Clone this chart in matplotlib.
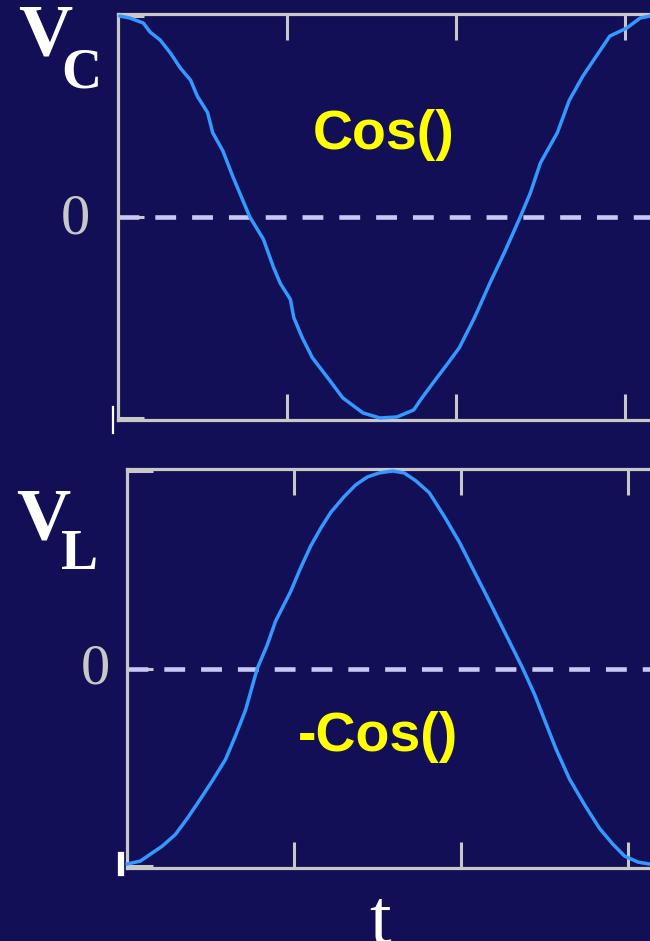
import matplotlib
matplotlib.use("Agg")
import matplotlib.pyplot as plt
from matplotlib.lines import Line2D

W, H = 650, 941
BG = "#120f56"
AXIS = "#c8c8c8"
CURVE = "#3399ff"
ZERO = "#c8c8f5"
YELLOW = "#ffff00"

# capacitor voltage (time in tick units, voltage normalised)
t_c = [0.01, 0.07, 0.15, 0.19, 0.25, 0.31, 0.37, 0.43, 0.47, 0.53, 0.56, 0.62,
       0.68, 0.72, 0.78, 0.86, 0.92, 0.96, 1.02, 1.04, 1.09, 1.15, 1.25, 1.33,
       1.45, 1.55, 1.65, 1.75, 1.79, 1.86, 1.95, 2.02, 2.11, 2.20, 2.29, 2.38,
       2.44, 2.50, 2.60, 2.67, 2.75, 2.83, 2.91, 3.01, 3.09, 3.15]
v_c = [1.00, 0.99, 0.965, 0.92, 0.88, 0.816, 0.74, 0.68, 0.60, 0.52, 0.42, 0.33,
       0.20, 0.12, 0.00, -0.11, -0.25, -0.33, -0.41, -0.50, -0.60, -0.70, -0.81, -0.90,
       -0.975, -1.00, -0.995, -0.96, -0.91, -0.83, -0.73, -0.65, -0.50, -0.33, -0.17, 0.00,
       0.12, 0.27, 0.42, 0.58, 0.70, 0.80, 0.90, 0.94, 0.99, 1.00]

# inductor voltage
t_l = [0.00, 0.08, 0.14, 0.21, 0.29, 0.36, 0.44, 0.51, 0.59, 0.65, 0.71, 0.78,
       0.84, 0.89, 0.98, 1.04, 1.10, 1.16, 1.22, 1.30, 1.37, 1.44, 1.51, 1.59,
       1.66, 1.73, 1.81, 1.90, 1.99, 2.08, 2.17, 2.27, 2.37, 2.44, 2.50, 2.57,
       2.65, 2.74, 2.83, 2.91, 2.98, 3.06, 3.13]
v_l = [-0.99, -0.975, -0.94, -0.90, -0.84, -0.76, -0.66, -0.57, -0.46, -0.34, -0.21, 0.00,
       0.12, 0.24, 0.39, 0.51, 0.62, 0.71, 0.79, 0.87, 0.93, 0.97, 0.99, 1.00,
       0.99, 0.95, 0.89, 0.77, 0.64, 0.49, 0.34, 0.17, 0.00, -0.13, -0.26, -0.41,
       -0.56, -0.69, -0.81, -0.89, -0.95, -0.98, -0.99]

x_ticks = [1, 2, 3]
y_ticks = [-1, 0, 1]

plt.rcParams["lines.scale_dashes"] = False


def fx(x):
    return x / W


def fy(y):
    return 1 - y / H


fig = plt.figure(figsize=(6.5, 9.41), dpi=100, facecolor=BG)


def panel(left, top, bottom, px_per_unit, t, v):
    ax = fig.add_axes([fx(left), fy(bottom), 3.5 * px_per_unit / W, (bottom - top) / H])
    ax.set_facecolor(BG)
    ax.set_xlim(0, 3.5)
    ax.set_ylim(-1.01, 1.01)
    ax.axhline(0, color=ZERO, lw=3.3, dashes=(15, 11.5), zorder=2)
    ax.plot(t, v, color=CURVE, lw=2.5, zorder=3, clip_on=False,
            solid_joinstyle="round", solid_capstyle="round")
    for s in ("left", "top", "bottom"):
        ax.spines[s].set_color(AXIS)
        ax.spines[s].set_linewidth(2.3)
    ax.spines["right"].set_visible(False)
    ax.set_xticks(x_ticks)
    ax.set_yticks(y_ticks)
    ax.tick_params(axis="both", direction="in", color=AXIS, width=2.2, length=19,
                   top=True, right=False, labelbottom=False, labelleft=False)
    return ax


ax1 = panel(118, 14, 420, 169, t_c, v_c)
ax2 = panel(127, 469, 868, 167, t_l, v_l)

serif = "Liberation Serif"
sans = "Liberation Sans"

# axis names
fig.text(fx(45), fy(37), "V", color="white", family=serif, weight="bold",
         fontsize=54, ha="center", va="center")
fig.text(fx(81), fy(74), "C", color="white", family=serif, weight="bold",
         fontsize=40, ha="center", va="center")
fig.text(fx(43), fy(522), "V", color="white", family=serif, weight="bold",
         fontsize=54, ha="center", va="center")
fig.text(fx(80), fy(555), "L", color="white", family=serif, weight="bold",
         fontsize=40, ha="center", va="center")

# zero labels
fig.text(fx(75), fy(219), "0", color=AXIS, family=serif, fontsize=42,
         ha="center", va="center")
fig.text(fx(95), fy(670), "0", color=AXIS, family=serif, fontsize=42,
         ha="center", va="center")

fig.text(fx(380), fy(924), "t", color="white", family=serif, fontsize=56,
         ha="center", va="center")

# curve names
fig.text(fx(384), fy(135), "Cos()", color=YELLOW, family=sans, weight="bold",
         fontsize=40, ha="center", va="center")
fig.text(fx(378), fy(737), "-Cos()", color=YELLOW, family=sans, weight="bold",
         fontsize=40, ha="center", va="center")

# small white cursor marks at the lower-left corners
fig.add_artist(Line2D([fx(113), fx(113)], [fy(407), fy(433)], color="white", lw=1.6))
fig.add_artist(Line2D([fx(121), fx(121)], [fy(855), fy(873)], color="white", lw=4.5))

fig.savefig("out.png", dpi=100, facecolor=BG)
